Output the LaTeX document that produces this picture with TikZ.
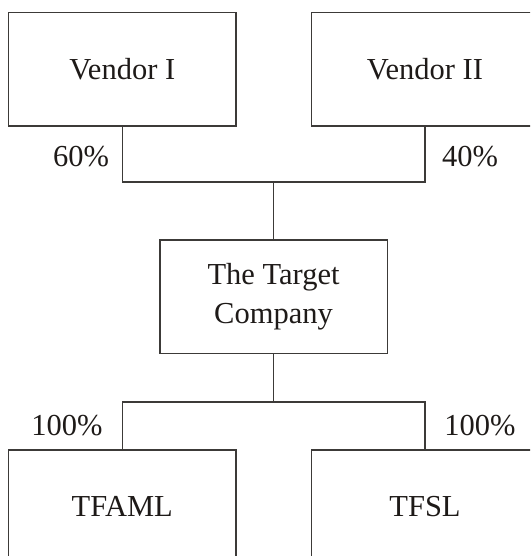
\documentclass[tikz,border=0pt]{standalone}
\usepackage{fontspec}
\setmainfont{Liberation Serif}
\definecolor{linec}{HTML}{3C3A38}
\definecolor{textc}{HTML}{1E1A18}
\begin{document}
\begin{tikzpicture}[x=1pt,y=-1pt,
  entity/.style={draw=linec, line width=1.5pt, rectangle, inner sep=0pt,
    minimum width=227.5pt, minimum height=113.5pt, text=textc,
    font=\fontsize{30.5}{39.5}\selectfont, align=center},
  pct/.style={text=textc, font=\fontsize{30.5}{36}\selectfont, inner sep=0pt},
  conn/.style={draw=linec, line width=1.5pt}]
\useasboundingbox (0,0) rectangle (530,556);
\clip (0,0) rectangle (530,556);
\node[entity] (v1) at (122.25,69.25) {Vendor I};
\node[entity] (v2) at (425,69.25) {Vendor II};
\node[entity] (tc) at (273.5,296.5) {The Target\\Company};
\node[entity] (f1) at (122.25,506.75) {TFAML};
\node[entity] (f2) at (425,506.75) {TFSL};
\node[pct] (p1) at (81,157) {60\%};
\node[pct] (p2) at (470,157) {40\%};
\node[pct] (p3) at (67,425.5) {100\%};
\node[pct] (p4) at (480,425.5) {100\%};
\coordinate (bt) at (273.5,182);
\coordinate (bb) at (273.5,402);
\draw[conn] (v1.south) |- (bt) -| (v2.south);
\draw[conn] (bt) -- (tc.north);
\draw[conn] (tc.south) -- (bb);
\draw[conn] (f1.north) |- (bb) -| (f2.north);
\end{tikzpicture}
\end{document}
